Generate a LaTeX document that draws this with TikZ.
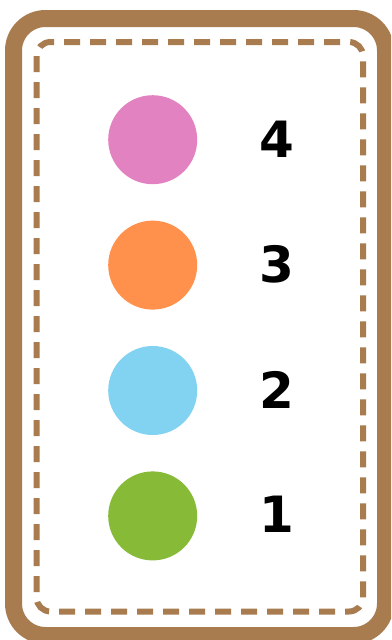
\documentclass[tikz,border=0pt]{standalone}
\usepackage{fontspec}
\setmainfont{DejaVu Sans}
\usepackage{xcolor}
\usetikzlibrary{positioning}

\definecolor{frame}{RGB}{168,124,79}
\definecolor{lvlpink}{RGB}{227,130,193}
\definecolor{lvlorange}{RGB}{255,145,77}
\definecolor{lvlblue}{RGB}{130,210,242}
\definecolor{lvlgreen}{RGB}{134,186,55}

\begin{document}
\begin{tikzpicture}[
    x=1pt, y=-1pt,
    dot/.style={circle, minimum size=89pt, inner sep=0pt},
    num/.style={font=\fontsize{50}{50}\selectfont\bfseries, inner sep=0pt},
]
\useasboundingbox (0,0) rectangle (391,640);
\clip (0,0) rectangle (391,640);
\fill[white] (0,0) rectangle (391,640);
% card frame
\draw[frame, line width=17pt, rounded corners=32pt] (13.5,18.5) rectangle (385.5,635.5);
\draw[frame, line width=6pt, dash pattern=on 16pt off 10pt, rounded corners=14pt] (36.5,42) rectangle (363,611.5);

% levels
\node[dot, fill=lvlpink] (c4) at (152.7,139.7) {};
\node[dot, fill=lvlorange, below=36pt of c4] (c3) {};
\node[dot, fill=lvlblue, below=36pt of c3] (c2) {};
\node[dot, fill=lvlgreen, below=36pt of c2] (c1) {};

\node[num] (n4) at (276.5,139.7) {4};
\node[num] (n3) at (276.5,264.7) {3};
\node[num] (n2) at (276.5,389.7) {2};
\node[num] (n1) at (276.5,514.7) {1};
\end{tikzpicture}
\end{document}
